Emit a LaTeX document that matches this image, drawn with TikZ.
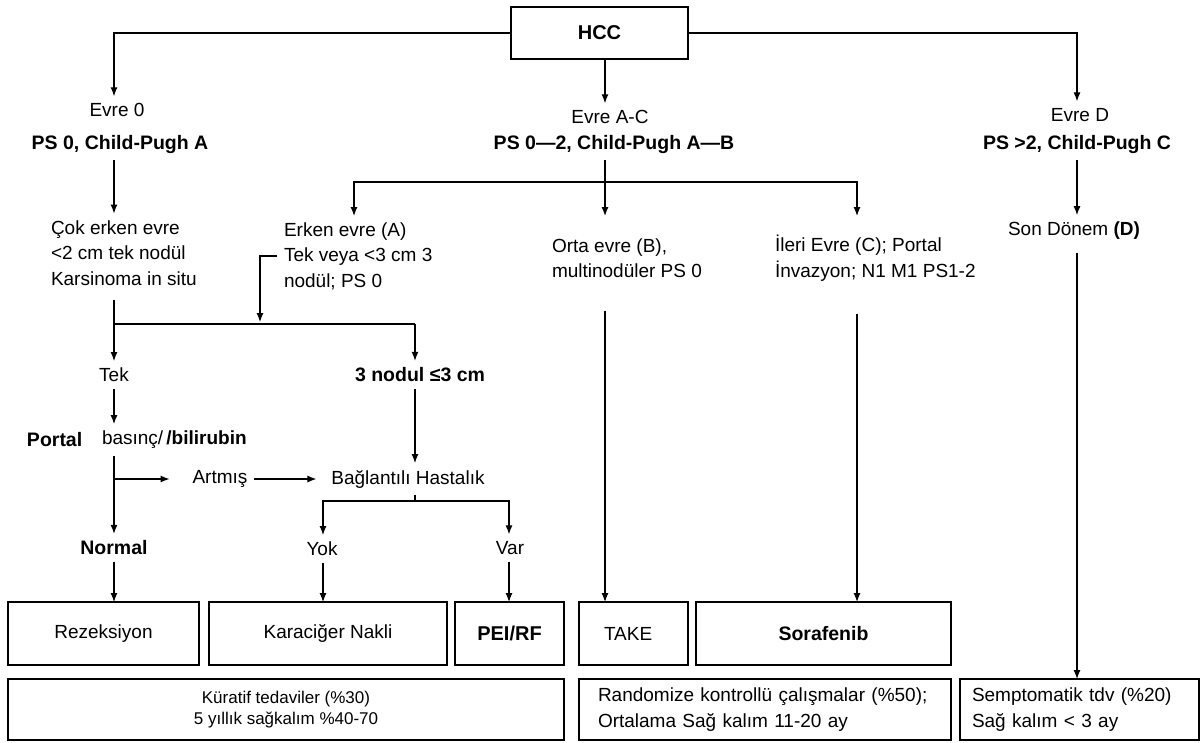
\documentclass[tikz,border=0pt]{standalone}
\usepackage{fontspec}
\setmainfont{Liberation Sans}
\usetikzlibrary{arrows.meta}

\tikzset{
  txt/.style={font=\fontsize{19}{25.5}\selectfont, inner sep=2pt, outer sep=5pt, align=left},
  bigtxt/.style={txt, font=\fontsize{19.5}{24}\selectfont\bfseries},
  box/.style={draw, line width=1.2pt, inner sep=0pt, outer sep=0pt, minimum height=63pt,
    font=\fontsize{19}{25.5}\selectfont},
  arr/.style={-{Latex[length=9pt,width=7pt]}, line width=1.2pt},
  ln/.style={line width=1.2pt},
}

\begin{document}
\begin{tikzpicture}[x=1pt,y=-1pt]
\useasboundingbox (0,0) rectangle (1200,742);
% columns and branch points
\coordinate (colL) at (114,0);
\coordinate (colE) at (260,0);
\coordinate (colA) at (354,0);
\coordinate (colY) at (323,0);
\coordinate (colM) at (415,0);
\coordinate (colV) at (509,0);
\coordinate (colAC) at (605,0);
\coordinate (colC) at (857,0);
\coordinate (colD) at (1077,0);
\coordinate (rowB) at (0,216);
\coordinate (brL) at (114,324);
\coordinate (brAC) at (605,182);
\coordinate (brB) at (415,501);

% top level
\node[box, minimum width=177, minimum height=52, font=\fontsize{20}{24}\selectfont\bfseries] (hcc) at (599.5,33) {HCC};
\node[txt] (e0) at (117,110) {Evre 0};
\node[bigtxt] (ps0) at (120,144) {PS 0, Child-Pugh A};
\node[txt] (eac) at (610,117) {Evre A-C};
\node[bigtxt] (psac) at (614,144) {PS 0---2, Child-Pugh A---B};
\node[txt] (ed) at (1080,115) {Evre D};
\node[bigtxt] (psd) at (1077,144) {PS >2, Child-Pugh C};

% second level
\node[txt, anchor=west] (cok) at (44,253) {Çok erken evre\\<2 cm tek nodül\\Karsinoma in situ};
\node[txt, anchor=west] (erken) at (277,256) {Erken evre (A)\\Tek veya <3 cm 3\\nodül; PS 0};
\node[txt, anchor=west] (orta) at (545,258) {Orta evre (B),\\multinodüler PS 0};
\node[txt, anchor=west] (ileri) at (768,258) {İleri Evre (C); Portal\\İnvazyon; N1 M1 PS1-2};
\node[txt] (son) at (1074,231) {Son Dönem \textbf{(D)}};

% early stage branch
\node[txt] (tek) at (114,375) {Tek};
\node[bigtxt] (uc) at (420,375) {3 nodul ≤3 cm};
\node[bigtxt, anchor=west] (portal) at (20,440) {Portal};
\node[txt, anchor=west] (basinc) at (95,440) {basınç/\,\textbf{/bilirubin}};
\node[txt] (artmis) at (220,479) {Artmış};
\node[txt] (bagl) at (408,479) {Bağlantılı Hastalık};
\node[bigtxt] (normal) at (114,548) {Normal};
\node[txt] (yok) at (322,549) {Yok};
\node[txt] (var) at (510,548) {Var};

% treatments
\node[box, minimum width=191] (rez) at (103.5,633.5) {Rezeksiyon};
\node[box, minimum width=238] (kar) at (328,633.5) {Karaciğer Nakli};
\node[box, minimum width=109, font=\fontsize{20}{24}\selectfont\bfseries] (pei) at (509.5,633.5) {PEI/RF};
\node[box, minimum width=109, text width=59, inner xsep=25, align=left] (take) at (633.5,633.5) {TAKE};
\node[box, minimum width=255, font=\fontsize{19.5}{24}\selectfont\bfseries] (sor) at (823.5,633.5) {Sorafenib};

% outcomes
\node[box, minimum width=556, minimum height=61, align=center, font=\fontsize{17}{21}\selectfont] (kur) at (286,709.5)
  {Küratif tedaviler (\%30)\\5 yıllık sağkalım \%40-70};
\node[box, minimum width=372, minimum height=61, text width=334, inner xsep=19, align=left] (ran) at (765,709.5)
  {Randomize kontrollü çalışmalar (\%50);\\Ortalama Sağ kalım 11-20 ay};
\node[box, minimum width=239, minimum height=61, text width=215, inner xsep=12, align=left] (sem) at (1079.5,709.5)
  {Semptomatik tdv (\%20)\\Sağ kalım < 3 ay};

% connectors
\draw[arr] (hcc.west) -| (colL |- e0.north);
\draw[arr] (hcc.south -| colAC) -- (colAC |- eac.north);
\draw[arr] (hcc.east) -| (colD |- ed.north);

\draw[arr] (colL |- ps0.south) -- (colL |- cok.north);
\draw[ln] (colAC |- psac.south) -- (brAC);
\draw[arr] (brAC) -| (colA |- rowB);
\draw[arr] (brAC) -- (colAC |- rowB);
\draw[arr] (brAC) -| (colC |- rowB);
\draw[arr] (colD |- psd.south) -- (colD |- son.north);

\draw[ln, shorten <=8pt] (colL |- cok.south) -- (brL) -- (colM |- brL);
\draw[arr, shorten >=2pt] (erken.west) -| (colE |- brL);
\draw[arr] (brL) -- (tek.north);
\draw[arr] (colM |- brL) -- (colM |- uc.north);

\draw[arr] (tek.south) -- (colL |- basinc.north);
\draw[arr] (colL |- basinc.south) -- (normal.north);
\draw[arr, shorten >=16pt] (colL |- artmis) -- (artmis.west);
\draw[arr, shorten >=8pt] (artmis.east) -- (bagl.west);
\draw[arr] (colM |- uc.south) -- (colM |- bagl.north);
\draw[ln] (colM |- bagl.south) -- (brB);
\draw[arr] (brB) -| (colY |- yok.north);
\draw[arr] (brB) -| (colV |- var.north);

\draw[arr] (normal.south) -- (colL |- rez.north);
\draw[arr] (colY |- yok.south) -- (colY |- kar.north);
\draw[arr] (colV |- var.south) -- (colV |- pei.north);
\draw[arr, shorten <=26pt] (colAC |- orta.south) -- (colAC |- take.north);
\draw[arr, shorten <=26pt] (colC |- ileri.south) -- (colC |- sor.north);
\draw[arr, shorten <=6pt] (colD |- son.south) -- (colD |- sem.north);
\end{tikzpicture}
\end{document}
